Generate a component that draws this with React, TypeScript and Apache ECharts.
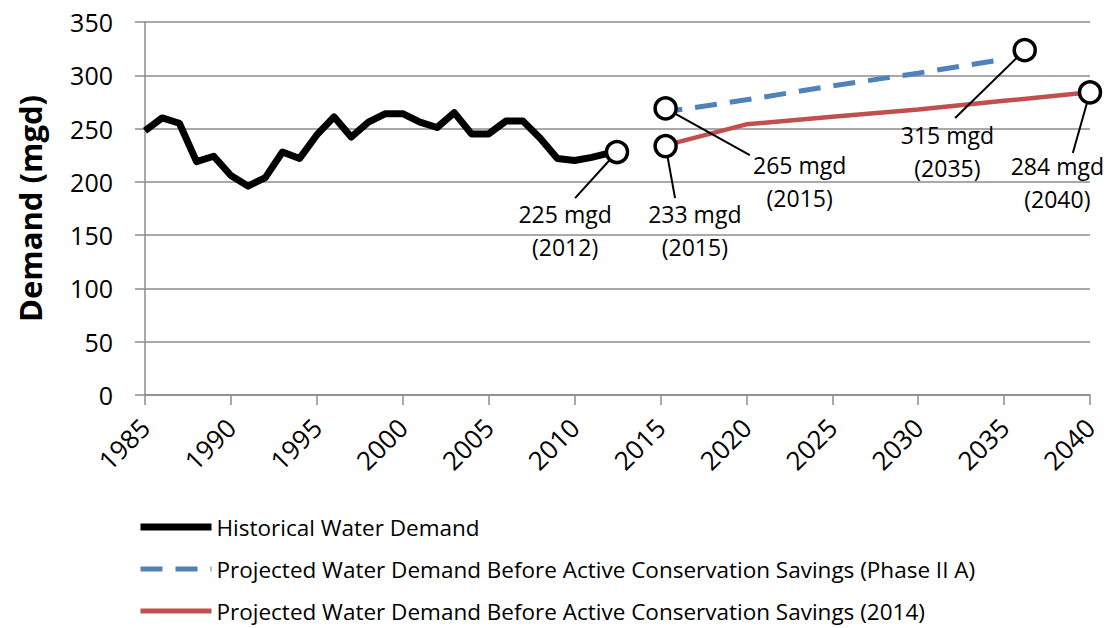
import React, { useEffect, useRef } from "react";
import * as echarts from "echarts";

const histYears = [1985,1986,1987,1988,1989,1990,1991,1992,1993,1994,1995,1996,1997,1998,1999,2000,2001,2002,2003,2004,2005,2006,2007,2008,2009,2010,2011,2012];
const histValues = [248,260,255,219,224,206,196,204,228,222,244,261,242,256,264,264,256,251,265,245,245,257,257,241,222,220,223,227];

const phaseYears = [2015,2020,2025,2030,2035];
const phaseValues = [265,277,290,302,315];

const proj2014Years = [2015,2020,2025,2030,2035,2040];
const proj2014Values = [233,254,261,268,276,284];

const yTicks = { min: 0, max: 350, interval: 50 };
const xTicks = { min: 1985, max: 2040, interval: 5 };

const seriesNames = [
  "Historical Water Demand",
  "Projected Water Demand Before Active Conservation Savings (Phase II A)",
  "Projected Water Demand Before Active Conservation Savings (2014)",
];
const seriesColors = ["#000000", "#4F81BD", "#C0504D"];
const seriesWidths = [7, 5, 5];
const seriesDash: any[] = ["solid", [22, 13], "solid"];

// callouts: marker position, leader end, label centre, text (data coords)
const calloutSeries = [0, 2, 1, 1, 2];
const calloutMarker = [[2012.47, 228], [2015.3, 233.6], [2015.3, 269], [2036.2, 323.6], [2040, 284]];
const calloutLeaderEnd = [[2010.03, 184.8], [2015.85, 184.8], [2020.2, 225], [2032.15, 259.9], [2039.0, 227]];
const calloutLabelPos = [[2009.45, 154.3], [2017.0, 154.3], [2023.1, 200.3], [2031.7, 228.4], [2038.1, 199.3]];
const calloutText = ["225 mgd\n(2012)", "233 mgd\n(2015)", "265 mgd\n(2015)", "315 mgd\n(2035)", "284 mgd\n(2040)"];

const FONT = "Open Sans";

function markersFor(idx: number) {
  const ids = calloutSeries.map((s, i) => (s === idx ? i : -1)).filter((i) => i >= 0);
  return {
    markLine: {
      silent: true,
      symbol: ["none", "none"],
      z: 6,
      label: { show: false },
      lineStyle: { color: "#000", width: 2, type: "solid" },
      data: ids.map((i) => [{ coord: calloutMarker[i] }, { coord: calloutLeaderEnd[i] }]),
    },
    markPoint: {
      silent: true,
      z: 10,
      data: [
        ...ids.map((i) => ({
          coord: calloutMarker[i],
          symbol: "circle",
          symbolSize: 21,
          itemStyle: { color: "#fff", borderColor: "#000", borderWidth: 3.5 },
          label: { show: false },
        })),
        ...ids.map((i) => ({
          coord: calloutLabelPos[i],
          symbol: "circle",
          symbolSize: 0,
          itemStyle: { color: "transparent" },
          label: {
            show: true,
            position: "inside",
            formatter: calloutText[i],
            color: "#000",
            fontFamily: FONT,
            fontSize: 23,
            lineHeight: 33,
            align: "center",
            verticalAlign: "middle",
          },
        })),
      ],
    },
  };
}

export default function App() {
  const ref = useRef<HTMLDivElement>(null);
  useEffect(() => {
    if (!ref.current) return;
    const chart = echarts.init(ref.current, null, { renderer: "svg" });
    chart.setOption({
      animation: false,
      backgroundColor: "#fff",
      grid: { left: 145, right: 16, top: 22, bottom: 233, containLabel: false },
      xAxis: {
        type: "value",
        min: xTicks.min,
        max: xTicks.max,
        interval: xTicks.interval,
        axisLine: { show: true, lineStyle: { color: "#8c8c8c", width: 1.5 } },
        axisTick: { show: true, length: 10, lineStyle: { color: "#8c8c8c", width: 1.5 } },
        splitLine: { show: false },
        axisLabel: { rotate: 45, color: "#000", fontFamily: FONT, fontSize: 26, margin: 28, formatter: (v: number) => String(v) },
      },
      yAxis: {
        type: "value",
        min: yTicks.min,
        max: yTicks.max,
        interval: yTicks.interval,
        name: "Demand (mgd)",
        nameLocation: "middle",
        nameGap: 100,
        nameTextStyle: { color: "#000", fontFamily: FONT, fontSize: 31, fontWeight: "bold" },
        axisLine: { show: true, lineStyle: { color: "#8c8c8c", width: 1.5 } },
        axisTick: { show: true, inside: false, length: 10, lineStyle: { color: "#8c8c8c", width: 1.5 } },
        splitLine: { show: true, lineStyle: { color: "#8c8c8c", width: 1.5 } },
        axisLabel: { color: "#000", fontFamily: FONT, fontSize: 25, margin: 32 },
      },
      legend: {
        orient: "vertical",
        left: 137,
        top: 515,
        padding: 0,
        height: 112,
        itemWidth: 71,
        itemHeight: 16,
        itemGap: 18,
        selectedMode: false,
        data: seriesNames.map((n, i) => ({
          name: n,
          itemStyle: { opacity: 0 },
          lineStyle: { color: seriesColors[i], width: seriesWidths[i], type: seriesDash[i], opacity: 1 },
        })),
        textStyle: { color: "#000", fontFamily: FONT, fontSize: 22.5, lineHeight: 24 },
      },
      series: [
        {
          name: seriesNames[0],
          type: "line",
          clip: false,
          symbol: "none",
          data: histYears.map((y, i) => [y, histValues[i]]),
          lineStyle: { color: seriesColors[0], width: seriesWidths[0], type: seriesDash[0], join: "round" },
          itemStyle: { color: seriesColors[0] },
          ...markersFor(0),
        },
        {
          name: seriesNames[1],
          type: "line",
          clip: false,
          symbol: "none",
          data: phaseYears.map((y, i) => [y, phaseValues[i]]),
          lineStyle: { color: seriesColors[1], width: seriesWidths[1], type: seriesDash[1] },
          itemStyle: { color: seriesColors[1] },
          ...markersFor(1),
        },
        {
          name: seriesNames[2],
          type: "line",
          clip: false,
          symbol: "none",
          data: proj2014Years.map((y, i) => [y, proj2014Values[i]]),
          lineStyle: { color: seriesColors[2], width: 4.5, type: seriesDash[2] },
          itemStyle: { color: seriesColors[2] },
          ...markersFor(2),
        },
      ],
    });
    return () => chart.dispose();
  }, []);
  return <div ref={ref} style={{ width: 1106, height: 628, position: "absolute", left: 0, top: 0 }} />;
}
